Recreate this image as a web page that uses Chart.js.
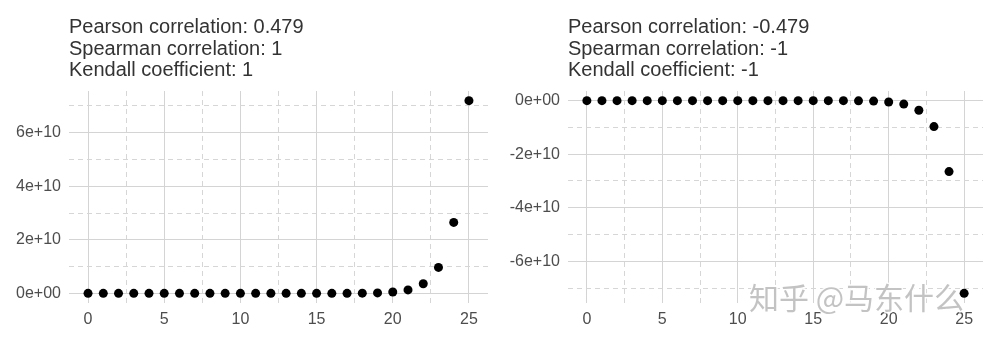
<!DOCTYPE html>
<html>
<head>
<meta charset="utf-8">
<script src="https://cdn.jsdelivr.net/npm/chart.js@4.4.1/dist/chart.umd.min.js"></script>
<style>
  html, body { margin: 0; padding: 0; background: #ffffff; }
  #wrap { position: relative; width: 983px; height: 337px; overflow: hidden; }
  .box { position: absolute; top: 0; height: 337px; }
  #boxL { left: 0; width: 491px; }
  #boxR { left: 491px; width: 492px; }
</style>
</head>
<body>
<div id="wrap">
  <div class="box" id="boxL"><canvas id="cL"></canvas></div>
  <div class="box" id="boxR"><canvas id="cR"></canvas></div>
</div>
<script>
// ---- data ----
const xValues = [0,1,2,3,4,5,6,7,8,9,10,11,12,13,14,15,16,17,18,19,20,21,22,23,24,25];
const growthValues = [0,0,0,0,0,0,0,0,0,0,0,0,0,0,0,0,0,0.02e9,0.07e9,0.18e9,0.49e9,1.3e9,3.6e9,9.7e9,26.5e9,72.0e9];
const declineValues = [0,0,0,0,0,0,0,0,0,0,0,0,0,0,0,0,0,-0.02e9,-0.07e9,-0.18e9,-0.49e9,-1.3e9,-3.6e9,-9.7e9,-26.5e9,-72.0e9];
const titleLeft = ["Pearson correlation: 0.479", "Spearman correlation: 1", "Kendall coefficient: 1"];
const titleRight = ["Pearson correlation: -0.479", "Spearman correlation: -1", "Kendall coefficient: -1"];
const xTicks = [0, 2.5, 5, 7.5, 10, 12.5, 15, 17.5, 20, 22.5, 25];
const yTicksLeft = [0, 1e10, 2e10, 3e10, 4e10, 5e10, 6e10, 7e10];
const yTicksRight = [-7e10, -6e10, -5e10, -4e10, -3e10, -2e10, -1e10, 0];
const watermark = "知乎 @马东什么";

const FONT = "'Liberation Sans', Arial, Helvetica, sans-serif";
const MAJOR = '#d4d4d4';
const MINOR = '#d6d6d6';

function sciLabel(v) {
  if (v === 0) return '0e+00';
  return (v / 1e10) + 'e+10';
}

const titlePlugin = {
  id: 'panelTitle',
  afterDraw(chart, args, opts) {
    const ctx = chart.ctx;
    ctx.save();
    ctx.fillStyle = '#333333';
    ctx.font = opts.size + 'px ' + FONT;
    ctx.textBaseline = 'alphabetic';
    ctx.textAlign = 'left';
    opts.lines.forEach((t, i) => {
      ctx.fillText(t, chart.chartArea.left, opts.firstBaseline + i * opts.lineStep);
    });
    if (opts.watermark) {
      ctx.font = '30px "Noto Sans CJK SC", sans-serif';
      ctx.lineWidth = 3;
      ctx.strokeStyle = 'rgba(255,255,255,0.9)';
      ctx.strokeText(opts.watermark, opts.wmX, 309);
      ctx.fillStyle = 'rgba(185,185,185,0.85)';
      ctx.fillText(opts.watermark, opts.wmX, 309);
    }
    ctx.restore();
  }
};

function makeChart(id, values, yMin, yMax, yTicks, lines, yAxisWidth, padRight, wm) {
  return new Chart(document.getElementById(id), {
    type: 'scatter',
    data: {
      datasets: [{
        data: xValues.map((x, i) => ({ x: x, y: values[i] })),
        backgroundColor: '#000000',
        borderColor: '#000000',
        pointRadius: 4.5,
        pointHoverRadius: 4.5,
        borderWidth: 0,
        clip: false
      }]
    },
    options: {
      responsive: true,
      maintainAspectRatio: false,
      animation: false,
      events: [],
      layout: { autoPadding: false, padding: { top: 91, right: padRight, bottom: 0, left: 0 } },
      plugins: {
        legend: { display: false },
        tooltip: { enabled: false },
        title: { display: false },
        panelTitle: { lines: lines, size: 20, firstBaseline: 33, lineStep: 21.5, watermark: wm, wmX: 258 }
      },
      scales: {
        x: {
          type: 'linear',
          min: -1.25,
          max: 26.25,
          afterBuildTicks: (s) => { s.ticks = xTicks.map(v => ({ value: v })); },
          afterFit: (s) => { s.height = 34; s.paddingLeft = 0; s.paddingRight = 0; },
          border: {
            display: false,
            dash: (c) => (c.tick && c.tick.value % 5 === 0) ? [] : [5, 4]
          },
          grid: {
            drawTicks: false,
            color: (c) => (c.tick && c.tick.value % 5 === 0) ? MAJOR : MINOR,
            lineWidth: 1
          },
          ticks: {
            autoSkip: false,
            maxRotation: 0,
            padding: 7,
            color: '#4d4d4d',
            font: { family: FONT, size: 16 },
            callback: (v) => (v % 5 === 0) ? String(v) : ''
          }
        },
        y: {
          type: 'linear',
          min: yMin,
          max: yMax,
          afterBuildTicks: (s) => { s.ticks = yTicks.map(v => ({ value: v })); },
          afterFit: (s) => { s.width = yAxisWidth; s.paddingTop = 0; s.paddingBottom = 0; },
          border: {
            display: false,
            dash: (c) => (c.tick && c.tick.value % 2e10 === 0) ? [] : [5, 4]
          },
          grid: {
            drawTicks: false,
            color: (c) => (c.tick && c.tick.value % 2e10 === 0) ? MAJOR : MINOR,
            lineWidth: 1
          },
          ticks: {
            autoSkip: false,
            padding: 8,
            color: '#4d4d4d',
            font: { family: FONT, size: 16 },
            callback: (v) => (v % 2e10 === 0) ? sciLabel(v) : ''
          }
        }
      }
    },
    plugins: [titlePlugin]
  });
}

makeChart('cL', growthValues, -3.6e9, 75.6e9, yTicksLeft, titleLeft, 69, 3, null);
makeChart('cR', declineValues, -75.6e9, 3.6e9, yTicksRight, titleRight, 77, 0, watermark);
</script>
</body>
</html>
